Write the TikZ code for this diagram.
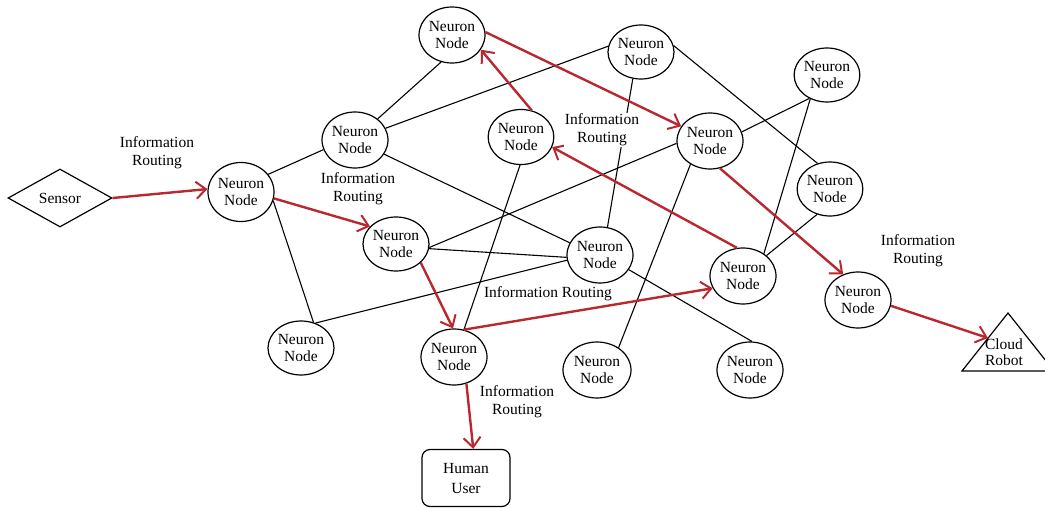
\documentclass[tikz,border=0pt]{standalone}
\usepackage{fontspec}
\setmainfont{Liberation Serif}
\usetikzlibrary{shapes.geometric,arrows.meta}
\definecolor{routered}{RGB}{185,40,48}
\begin{document}
\begin{tikzpicture}[x=1pt,y=-1pt,
  neuron/.style={ellipse, draw, line width=1.2pt, minimum width=66pt, minimum height=56pt,
    inner sep=0pt, align=center, font=\fontsize{15.5}{16.5}\selectfont},
  link/.style={draw, line width=1.1pt},
  route/.style={draw=routered, line width=2.4pt,
    -{Straight Barb[length=10pt,width=17pt,line width=2pt]}},
  lbl/.style={align=center, font=\fontsize{15.5}{18}\selectfont, inner sep=1pt}]
\useasboundingbox (0,0) rectangle (1045,508);

% endpoints
\node[diamond, draw, line width=1.2pt, minimum width=104pt, minimum height=58pt, inner sep=0pt,
  font=\fontsize{15.5}{17}\selectfont] (sensor) at (60,198) {Sensor};
\node[draw, line width=1.2pt, rounded corners=8pt, minimum width=88pt, minimum height=57pt,
  align=center, font=\fontsize{15.5}{20}\selectfont] (user) at (466,478) {Human\\User};
\draw[line width=1.2pt] (962,371) -- (1008,313) -- (1054,371) -- cycle;
\node[align=center, font=\fontsize{15.5}{16}\selectfont, inner sep=0pt] (robot) at (1004,352) {Cloud\\Robot};
\coordinate (robotin) at (988,338);

% neurons
\node[neuron, minimum height=59pt] (n1) at (241,192) {Neuron\\Node};
\node[neuron] (n2) at (355,140) {Neuron\\Node};
\node[neuron] (n3) at (452,35) {Neuron\\Node};
\node[neuron, minimum width=60pt, minimum height=55pt] (n4) at (521,137) {Neuron\\Node};
\node[neuron, minimum height=54pt] (n5) at (641,52) {Neuron\\Node};
\node[neuron] (n6) at (710,141) {Neuron\\Node};
\node[neuron, minimum width=64pt, minimum height=54pt] (n7) at (827,75) {Neuron\\Node};
\node[neuron, minimum width=64pt, minimum height=54pt] (n8) at (830,189) {Neuron\\Node};
\node[neuron, minimum height=54pt] (n9) at (396,244) {Neuron\\Node};
\node[neuron] (n10) at (600,255) {Neuron\\Node};
\node[neuron] (n11) at (743,276) {Neuron\\Node};
\node[neuron] (n12) at (858,300) {Neuron\\Node};
\node[neuron, minimum height=54pt] (n13) at (301,348) {Neuron\\Node};
\node[neuron] (n14) at (454,357) {Neuron\\Node};
\node[neuron, minimum width=68pt] (n15) at (597,370) {Neuron\\Node};
\node[neuron] (n16) at (750,370) {Neuron\\Node};

% plain links
\draw[link] (n1.33) -- (n2.197);
\draw[link] (n1.-15) -- (n13.64);
\draw[link] (n2.43) -- (n3.248);
\draw[link] (n2.21) -- (n5.170);
\draw[link] (n2.-26) -- (n10.158);
\draw[link] (n9.-8) -- (n10.184);
\draw[link] (n9.-6) -- (n6.184);
\draw[link] (n13.60) -- (n10.189);
\draw[link] (n14.70) -- (n4.268);
\draw[link] (n10.75) -- (n5.253);
\draw[link] (n10.-27) -- (n16.86);
\draw[link] (n15.46) -- (n6.230);
\draw[link] (n11.47) -- (n7.235);
\draw[link] (n11.41) -- (n8.243);
\draw[link] (n6.16) -- (n7.233);
\draw[link] (n5.11) -- (n8.116);

% routing path
\draw[route] (sensor.east) -- (n1.175);
\draw[route] (n1.-11) -- (n9.146);
\draw[route] (n9.-37) -- (n14.92);
\draw[route] (n14.70) -- (n11.202);
\draw[route] (n11.102) -- (n4.-18);
\draw[route] (n4.68) -- (n3.-27);
\draw[route] (n3.5) -- (n6.153);
\draw[route] (n6.-70) -- (n12.120);
\draw[route] (n12.-10) -- (robotin);
\draw[route] (n14.-65) -- (user.76);

% labels
\node[lbl] (l1) at (157,153) {Information\\Routing};
\node[lbl] (l2) at (358,189) {Information\\Routing};
\node[lbl, fill=white] (l3) at (602,130) {Information\\Routing};
\node[lbl] (l4) at (548,294) {Information Routing};
\node[lbl] (l5) at (918,251) {Information\\Routing};
\node[lbl] (l6) at (517,402) {Information\\Routing};
\end{tikzpicture}
\end{document}
